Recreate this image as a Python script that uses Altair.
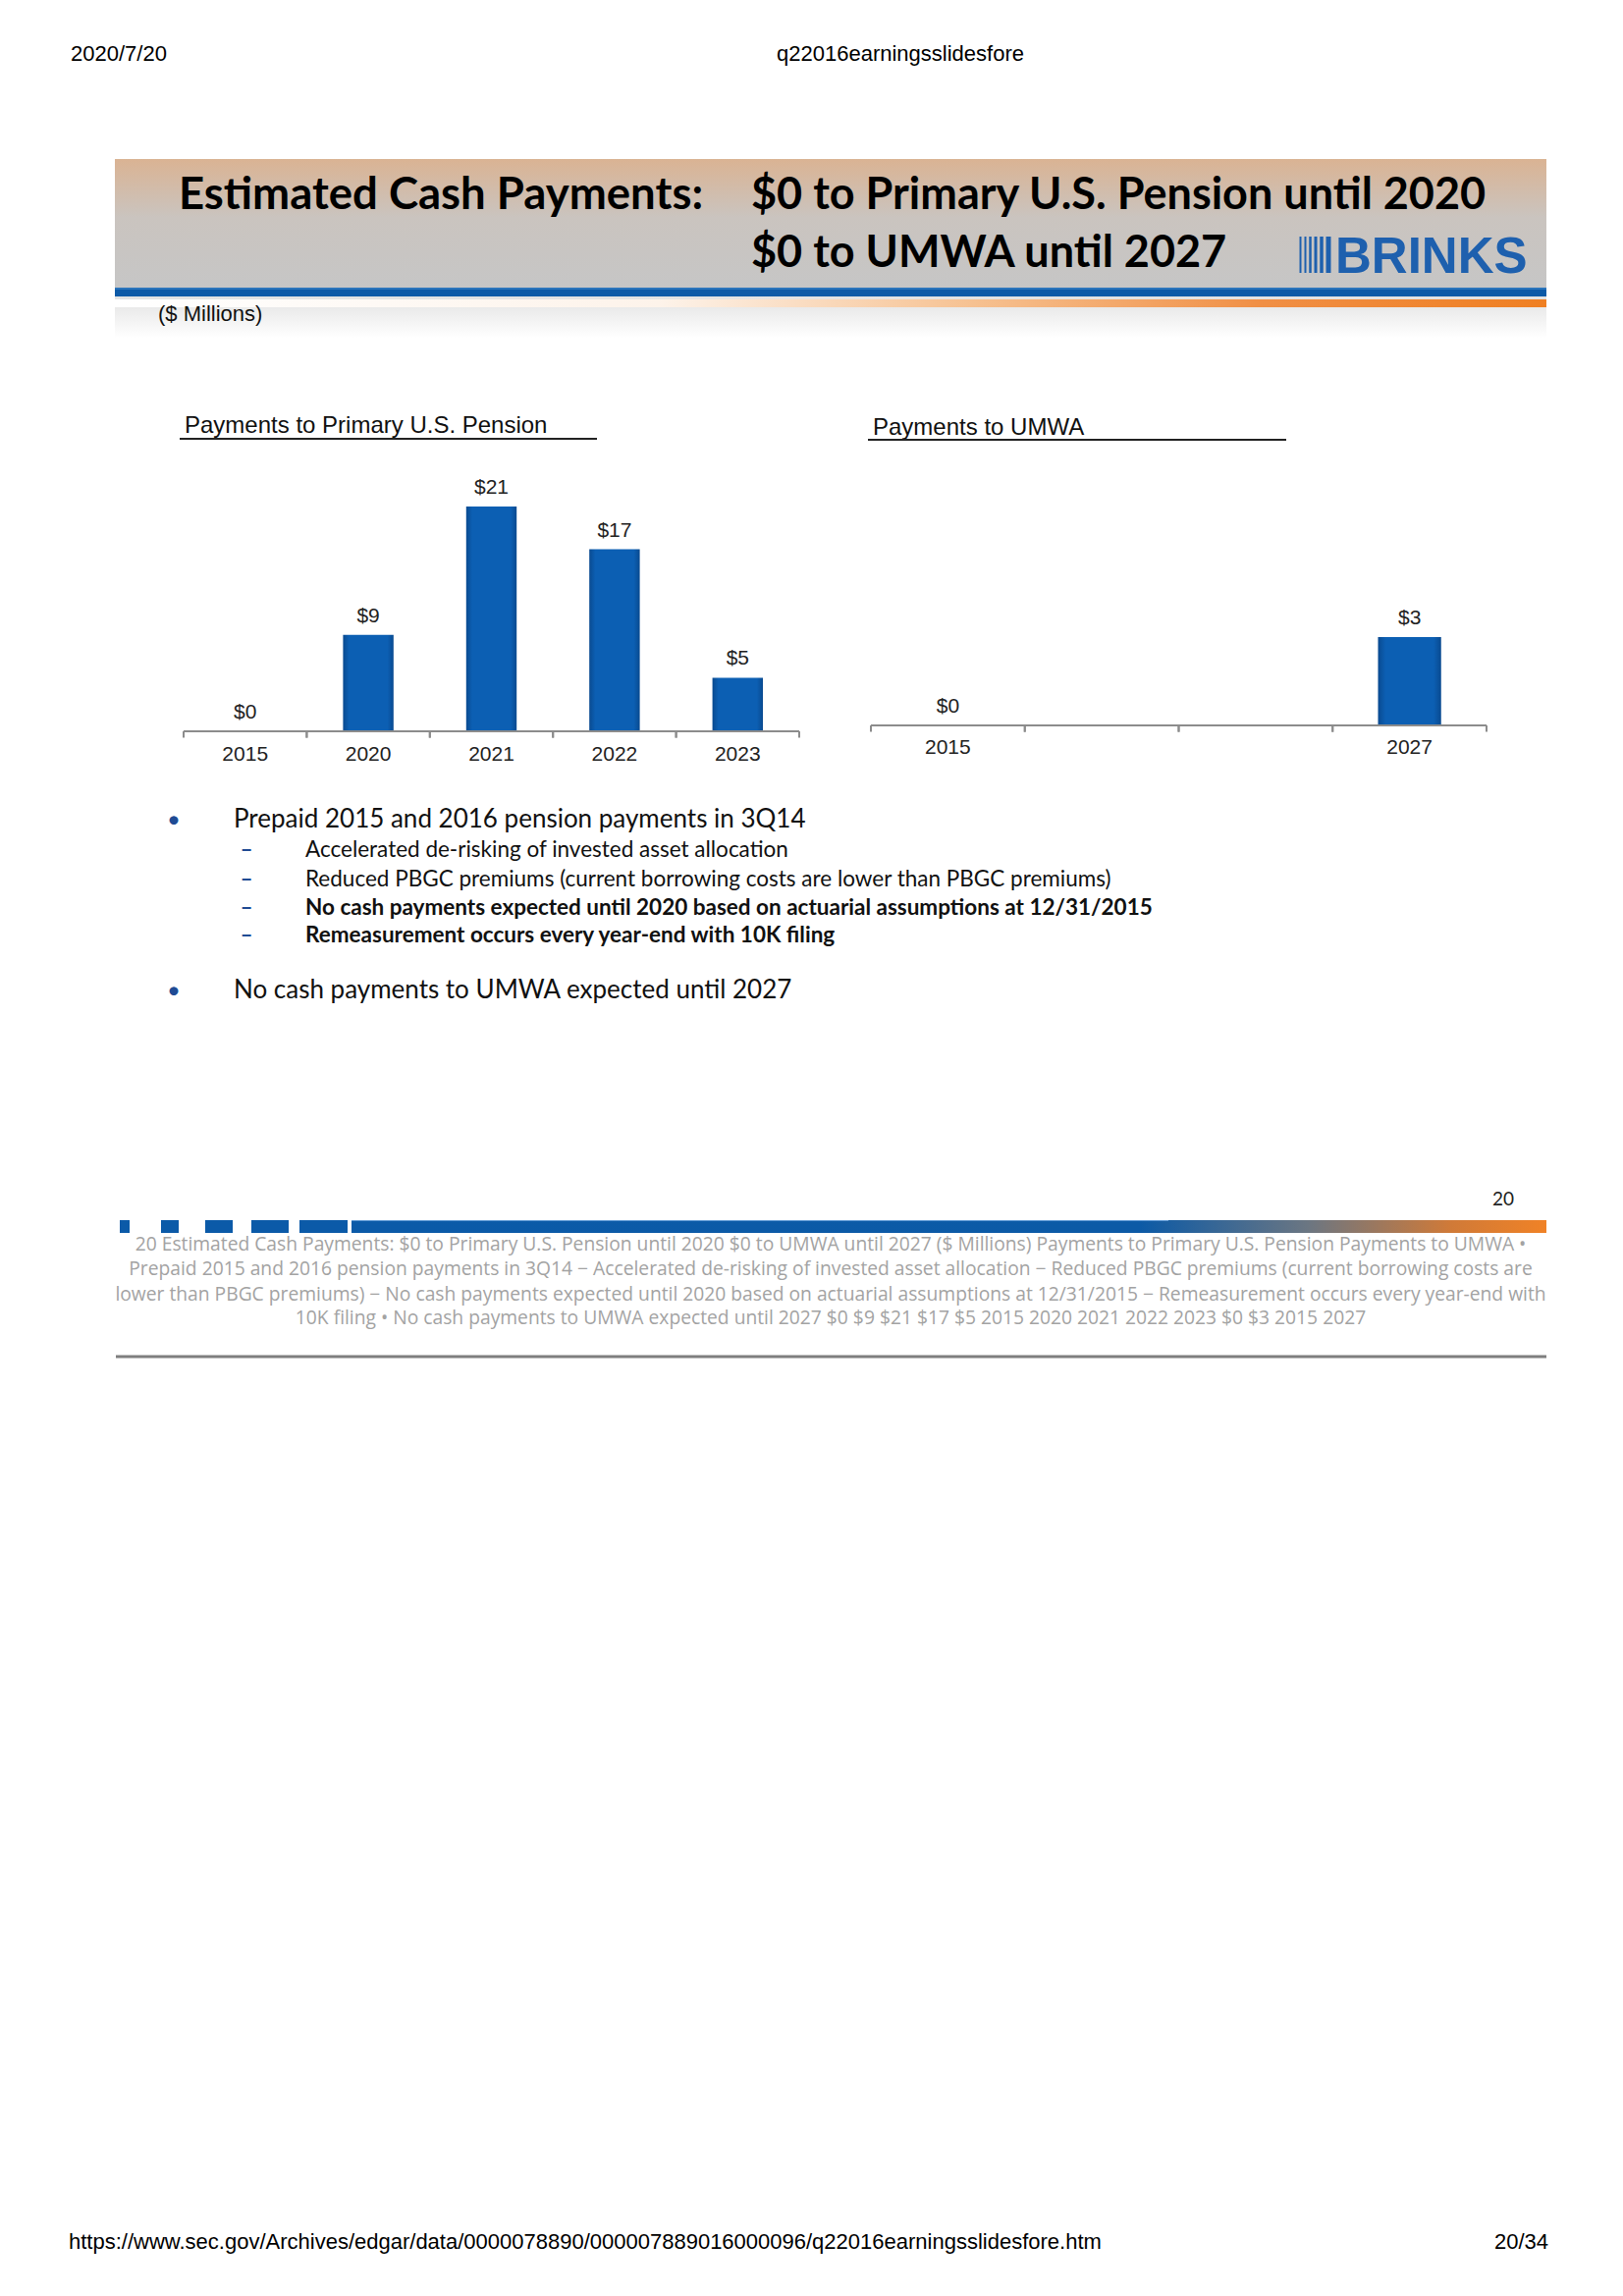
import altair as alt
import pandas as pd

# ---------------- data ----------------
pension_years = ["2015", "2020", "2021", "2022", "2023"]
pension_values = [0, 9, 21, 17, 5]
pension_labels = ["$0", "$9", "$21", "$17", "$5"]

umwa_slots = ["2015", "gap1", "gap2", "2027"]
umwa_slot_labels = ["2015", "", "", "2027"]
umwa_years = ["2015", "2027"]
umwa_values = [0, 3]
umwa_labels = ["$0", "$3"]

page_header = ["2020/7/20", "q22016earningsslidesfore"]
page_footer = ["https://www.sec.gov/Archives/edgar/data/0000078890/000007889016000096/q22016earningsslidesfore.htm", "20/34"]
title_left = "Estimated Cash Payments:"
title_right = ["$0 to Primary U.S. Pension until 2020", "$0 to UMWA until 2027"]
units_note = "($ Millions)"
chart_titles = ["Payments to Primary U.S. Pension", "Payments to UMWA"]
bullet_main = ["Prepaid 2015 and 2016 pension payments in 3Q14",
               "No cash payments to UMWA expected until 2027"]
bullet_subs = ["Accelerated de-risking of invested asset allocation",
               "Reduced PBGC premiums (current borrowing costs are lower than PBGC premiums)",
               "No cash payments expected until 2020 based on actuarial assumptions at 12/31/2015",
               "Remeasurement occurs every year-end with 10K filing"]
bullet_sub_bold = [False, False, True, True]
slide_number = "20"
ocr_lines = [
    "20 Estimated Cash Payments: $0 to Primary U.S. Pension until 2020  $0 to UMWA until 2027 ($ Millions) Payments to Primary U.S. Pension Payments to UMWA \u2022",
    "Prepaid 2015 and 2016 pension payments in 3Q14  \u2212 Accelerated de-risking of invested asset allocation \u2212 Reduced PBGC premiums (current borrowing costs are",
    "lower than PBGC premiums) \u2212 No cash payments expected until 2020 based on actuarial assumptions at 12/31/2015 \u2212 Remeasurement occurs every year-end with",
    "10K filing \u2022 No cash payments to UMWA expected until 2027 $0 $9 $21 $17 $5 2015 2020 2021 2022 2023 $0 $3 2015 2027",
]

# ---------------- helpers ----------------
one = pd.DataFrame({"k": [0]})
W, H = 1653, 2339
ARIAL = "Liberation Sans"
CAL = "Lato"
BLUE = "#0b5aa8"


def grad(stops, vertical=False):
    return alt.LinearGradient(
        gradient="linear",
        stops=[alt.GradientStop(color=c, offset=o) for o, c in stops],
        x1=0, x2=0 if vertical else 1, y1=0, y2=1 if vertical else 0,
    )


def rect(x, x2, y, y2, color):
    return alt.Chart(one).mark_rect(color=color).encode(
        x=alt.value(x), x2=alt.value(x2), y=alt.value(y), y2=alt.value(y2))


def hline(x, x2, y, color, w):
    return alt.Chart(one).mark_rule(color=color, strokeWidth=w).encode(
        x=alt.value(x), x2=alt.value(x2), y=alt.value(y))


def vline(x, y, y2, color, w):
    return alt.Chart(one).mark_rule(color=color, strokeWidth=w).encode(
        x=alt.value(x), y=alt.value(y), y2=alt.value(y2))


def txt(s, x, y, size, font=ARIAL, weight="normal", color="#000000", align="left", baseline="alphabetic"):
    return alt.Chart(one).mark_text(
        text=s, fontSize=size, font=font, fontWeight=weight, color=color,
        align=align, baseline=baseline).encode(x=alt.value(x), y=alt.value(y))


layers = []

# page header/footer (browser print)
layers.append(txt(page_header[0], 72, 62, 22))
layers.append(txt(page_header[1], 791, 62, 22))
layers.append(txt(page_footer[0], 70, 2291, 22))
layers.append(txt(page_footer[1], 1522, 2291, 22))

# slide title band
layers.append(rect(117, 1575, 162, 294, grad([(0, "#dab393"), (0.45, "#cac4bf"), (1, "#c6c6c6")], vertical=True)))
layers.append(rect(117, 1575, 302, 344, grad([(0, "#e2e2e2"), (1, "#ffffff")], vertical=True)))
layers.append(rect(117, 1575, 293, 302, "#0d5aa7"))
layers.append(hline(117, 1575, 294, "#4a8fd0", 1))
layers.append(rect(117, 1575, 305, 313, grad([(0, "#ffffff"), (0.38, "#fdf3ea"), (0.6, "#f6c191"), (0.8, "#f08f45"), (1, "#ef7f22")])))
layers.append(txt(title_left, 182, 213, 45.5, font=CAL, weight="bold"))
layers.append(txt(title_right[0], 765, 213, 45, font=CAL, weight="bold"))
layers.append(txt(title_right[1], 765, 272, 45, font=CAL, weight="bold"))
for xc, w in [(1324.5, 2), (1329.5, 2), (1334.5, 2.5), (1340, 3), (1346, 3.5), (1353, 5)]:
    layers.append(vline(xc, 241, 278, "#1e60ae", w))
layers.append(txt("BRINKS", 1360, 278, 51, weight="bold", color="#1e60ae"))
layers.append(txt(units_note, 161, 327, 22, color="#111111"))

# chart titles
layers.append(txt(chart_titles[0], 188, 441, 24, color="#111111"))
layers.append(hline(183, 608, 447, "#222222", 2))
layers.append(txt(chart_titles[1], 889, 443, 24, color="#111111"))
layers.append(hline(884, 1310, 448, "#222222", 2))

bar_fill = grad([(0, "#094a90"), (0.12, "#0c5fb3"), (0.88, "#0c5fb3"), (1, "#094a90")])
AXC = "#8c8c8c"

# ---- chart 1: Payments to Primary U.S. Pension ----
df1 = pd.DataFrame({"year": pension_years, "value": pension_values, "label": pension_labels})
xs1 = alt.Scale(domain=pension_years, range=[187, 814], paddingInner=0.59, paddingOuter=0.295)
xt1 = alt.Scale(domain=pension_years, range=[187, 814], paddingInner=0, paddingOuter=0)
ys1 = alt.Scale(domain=[0, 21], range=[745, 516], nice=False, zero=True)

layers.append(alt.Chart(df1).mark_bar(color=bar_fill).encode(
    x=alt.X("year:N", scale=xs1, axis=None),
    y=alt.Y("value:Q", scale=ys1, axis=None)))
layers.append(hline(187, 814, 745, AXC, 2))
for bp in (0, 1):
    layers.append(alt.Chart(df1).mark_rule(color=AXC, strokeWidth=2).encode(
        x=alt.X("year:N", scale=xt1, axis=None, bandPosition=bp),
        y=alt.Y(datum=0, scale=ys1, axis=None),
        y2=alt.Y2(datum=-0.6)))
layers.append(alt.Chart(df1).mark_text(font=ARIAL, fontSize=21, color="#222222", baseline="alphabetic", dy=-13).encode(
    x=alt.X("year:N", scale=xs1, axis=None),
    y=alt.Y("value:Q", scale=ys1, axis=None),
    text="label:N"))
layers.append(alt.Chart(df1).mark_text(font=ARIAL, fontSize=21, color="#222222", baseline="middle", dy=24).encode(
    x=alt.X("year:N", scale=xs1, axis=None),
    y=alt.Y(datum=0, scale=ys1, axis=None),
    text="year:N"))

# ---- chart 2: Payments to UMWA ----
df2 = pd.DataFrame({"year": umwa_years, "value": umwa_values, "label": umwa_labels})
dslots = pd.DataFrame({"slot": umwa_slots, "label": umwa_slot_labels})
xs2 = alt.Scale(domain=umwa_slots, range=[887, 1514], paddingInner=0.59, paddingOuter=0.295)
xt2 = alt.Scale(domain=umwa_slots, range=[887, 1514], paddingInner=0, paddingOuter=0)
ys2 = alt.Scale(domain=[0, 3], range=[739, 649], nice=False, zero=True)

layers.append(alt.Chart(df2).mark_bar(color=bar_fill).encode(
    x=alt.X("year:N", scale=xs2, axis=None),
    y=alt.Y("value:Q", scale=ys2, axis=None)))
layers.append(hline(887, 1514, 739, AXC, 2))
for bp in (0, 1):
    layers.append(alt.Chart(dslots).mark_rule(color=AXC, strokeWidth=2).encode(
        x=alt.X("slot:N", scale=xt2, axis=None, bandPosition=bp),
        y=alt.Y(datum=0, scale=ys2, axis=None),
        y2=alt.Y2(datum=-0.22)))
layers.append(alt.Chart(df2).mark_text(font=ARIAL, fontSize=21, color="#222222", baseline="alphabetic", dy=-13).encode(
    x=alt.X("year:N", scale=xs2, axis=None),
    y=alt.Y("value:Q", scale=ys2, axis=None),
    text="label:N"))
layers.append(alt.Chart(dslots).mark_text(font=ARIAL, fontSize=21, color="#222222", baseline="middle", dy=23).encode(
    x=alt.X("slot:N", scale=xs2, axis=None),
    y=alt.Y(datum=0, scale=ys2, axis=None),
    text="label:N"))

# ---- bullets ----
BUL = "#1f4b94"
layers.append(txt("\u2022", 177, 843, 24, font=CAL, color=BUL, align="center"))
layers.append(txt(bullet_main[0], 238, 843, 26, font=CAL, color="#111111"))
for i, (s, b) in enumerate(zip(bullet_subs, bullet_sub_bold)):
    yb = [873, 903, 932, 960][i]
    layers.append(txt("\u2013", 251, yb, 22, font=CAL, color=BUL, align="center", weight="bold"))
    layers.append(txt(s, 311, yb, 22.5, font=CAL, color="#111111", weight="bold" if b else "normal"))
layers.append(txt("\u2022", 177, 1017, 24, font=CAL, color=BUL, align="center"))
layers.append(txt(bullet_main[1], 238, 1017, 26, font=CAL, color="#111111"))

# ---- slide footer ----
layers.append(txt(slide_number, 1531, 1228, 19, font=CAL, color="#222222", align="center"))
for x0, x1 in [(122, 132), (164, 182), (209, 237), (256, 294), (305, 354)]:
    layers.append(rect(x0, x1, 1243, 1256, BLUE))
layers.append(rect(358, 1575, 1243, 1256, grad([(0, BLUE), (0.66, "#0c5aa6"), (0.8, "#6b7682"), (0.92, "#d07a38"), (1, "#f08226")])))
layers.append(hline(358, 1190, 1243.5, "#5f9ad6", 1))
for i, s in enumerate(ocr_lines):
    layers.append(txt(s, 846, [1268, 1293, 1319, 1343][i], 19.25, font="Open Sans", color="#a3a3a3", align="center", baseline="middle"))
layers.append(hline(118, 1575, 1382, "#7f7f7f", 3))

chart = alt.layer(*layers).resolve_scale(x="independent", y="independent").properties(
    width=W, height=H, autosize=alt.AutoSizeParams(type="none"), padding=0, background="#ffffff"
).configure_view(stroke=None)

chart.save("out.html", embed_options={"renderer": "svg", "actions": False})
